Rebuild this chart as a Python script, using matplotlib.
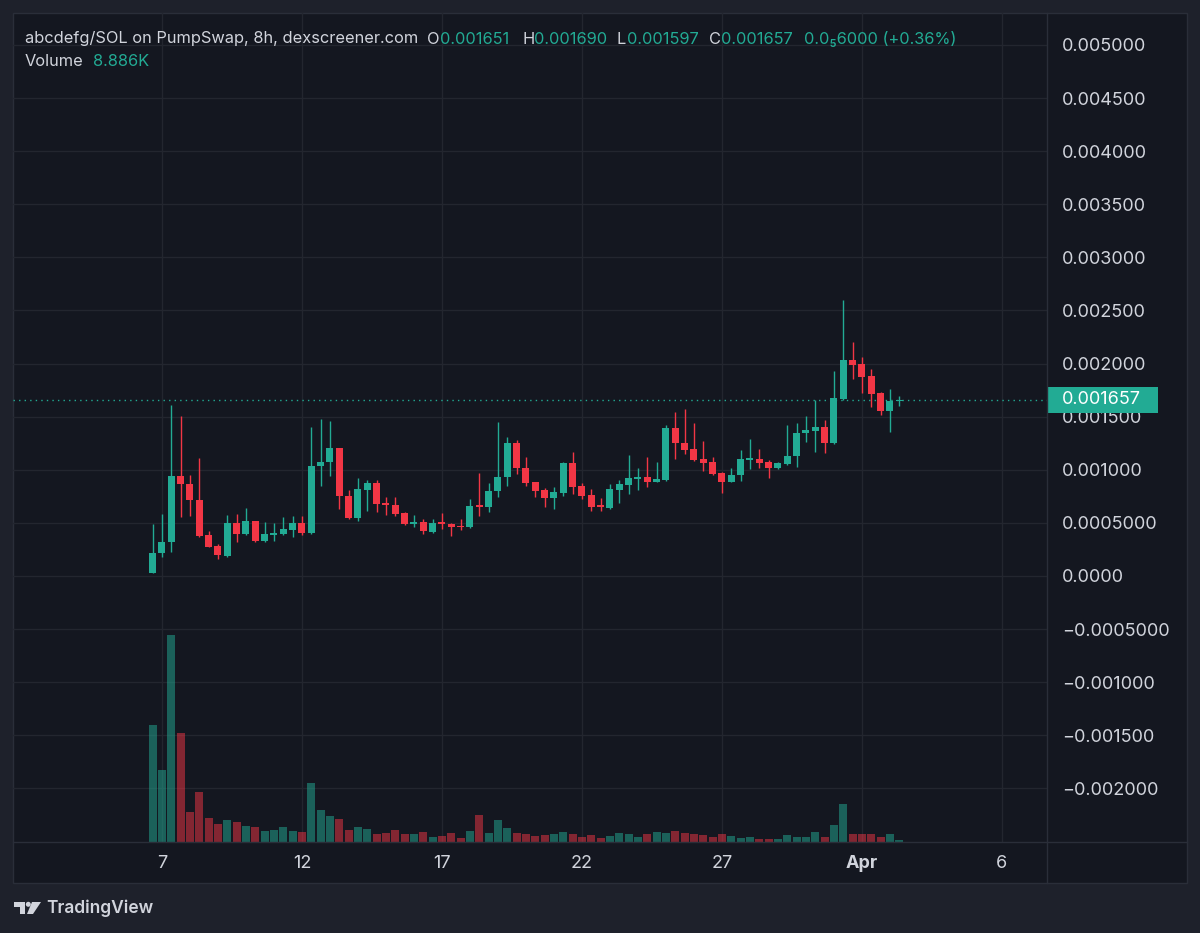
import numpy as np
import pandas as pd
import matplotlib
matplotlib.use("Agg")
import matplotlib.pyplot as plt
import matplotlib.dates as mdates
import matplotlib.patches as patches
import matplotlib.transforms as mtransforms

plt.rcParams['font.family'] = ['Inter', 'DejaVu Sans']

# --- data: 8h candles, prices in 1e-3 SOL, volume in thousands ---
open_m = [0.031, 0.214, 0.320, 0.944, 0.866, 0.716, 0.383, 0.282, 0.191, 0.502,
          0.393, 0.518, 0.330, 0.389, 0.393, 0.433, 0.496, 0.402, 1.036, 1.076,
          1.208, 0.753, 0.543, 0.810, 0.879, 0.690, 0.666, 0.593, 0.490, 0.508,
          0.417, 0.505, 0.490, 0.474, 0.459, 0.669, 0.647, 0.803, 0.929, 1.250,
          1.014, 0.882, 0.810, 0.737, 0.779, 1.061, 0.847, 0.763, 0.669, 0.637,
          0.810, 0.857, 0.916, 0.929, 0.888, 0.904, 1.396, 1.255, 1.196, 1.102,
          1.076, 0.967, 0.888, 0.951, 1.092, 1.102, 1.071, 1.014, 1.055, 1.133,
          1.344, 1.365, 1.406, 1.250, 1.664, 2.034, 1.996, 1.883, 1.720, 1.557,
          1.651]
high_m = [0.487, 0.581, 1.610, 1.507, 0.951, 1.108, 0.421, 0.301, 0.574, 0.584,
          0.643, 0.518, 0.511, 0.496, 0.558, 0.565, 0.568, 1.400, 1.476, 1.462,
          1.208, 0.810, 0.920, 0.904, 0.904, 0.741, 0.747, 0.605, 0.574, 0.537,
          0.533, 0.590, 0.502, 0.537, 0.725, 0.973, 0.873, 1.453, 1.312, 1.281,
          1.123, 0.882, 0.826, 0.835, 1.070, 1.165, 0.873, 0.816, 0.731, 0.863,
          0.904, 1.139, 1.014, 1.123, 1.076, 1.422, 1.547, 1.570, 1.443, 1.271,
          1.118, 0.976, 1.014, 1.186, 1.293, 1.193, 1.092, 1.071, 1.422, 1.443,
          1.507, 1.657, 1.469, 1.933, 2.599, 2.201, 2.059, 1.946, 1.730, 1.758,
          1.690]
low_m = [0.025, 0.182, 0.223, 0.558, 0.568, 0.364, 0.270, 0.157, 0.182, 0.323,
         0.386, 0.323, 0.320, 0.332, 0.386, 0.370, 0.386, 0.393, 0.850, 0.942,
         0.631, 0.537, 0.521, 0.612, 0.605, 0.574, 0.568, 0.480, 0.464, 0.395,
         0.402, 0.443, 0.377, 0.433, 0.455, 0.565, 0.605, 0.747, 0.847, 0.960,
         0.847, 0.747, 0.653, 0.628, 0.756, 0.769, 0.725, 0.615, 0.615, 0.628,
         0.690, 0.769, 0.810, 0.835, 0.882, 0.895, 1.099, 1.149, 1.083, 0.992,
         0.951, 0.779, 0.888, 0.897, 1.005, 1.014, 0.926, 1.005, 1.045, 1.024,
         1.265, 1.171, 1.161, 1.240, 1.657, 1.852, 1.726, 1.588, 1.516, 1.359,
         1.597]
close_m = [0.219, 0.323, 0.944, 0.863, 0.716, 0.379, 0.276, 0.198, 0.502, 0.395,
           0.518, 0.330, 0.395, 0.408, 0.440, 0.496, 0.402, 1.036, 1.076, 1.208,
           0.753, 0.549, 0.816, 0.879, 0.675, 0.671, 0.584, 0.487, 0.511, 0.424,
           0.496, 0.490, 0.459, 0.459, 0.659, 0.653, 0.803, 0.935, 1.250, 1.014,
           0.879, 0.803, 0.737, 0.788, 1.061, 0.841, 0.756, 0.653, 0.647, 0.816,
           0.863, 0.920, 0.935, 0.888, 0.913, 1.396, 1.250, 1.186, 1.092, 1.061,
           0.958, 0.888, 0.951, 1.099, 1.114, 1.061, 1.014, 1.061, 1.133, 1.344,
           1.375, 1.406, 1.250, 1.673, 2.034, 1.987, 1.871, 1.714, 1.554, 1.651,
           1.657]
volume_k = [607, 373, 1075, 567, 156, 260, 126, 95, 113, 104,
            83, 78, 56, 61, 80, 57, 50, 308, 165, 134,
            118, 64, 76, 68, 43, 47, 64, 40, 40, 54,
            26, 30, 47, 21, 57, 139, 47, 113, 73, 47,
            40, 33, 36, 40, 52, 43, 26, 36, 21, 30,
            47, 43, 26, 43, 50, 47, 57, 48, 40, 36,
            24, 40, 33, 21, 26, 17, 17, 14, 36, 26,
            26, 50, 26, 90, 199, 40, 40, 40, 26, 43,
            8.886]
last_price = 0.001657

y_ticks = [0.005, 0.0045, 0.004, 0.0035, 0.003, 0.0025, 0.002, 0.0015, 0.001,
           0.0005, 0.0, -0.0005, -0.001, -0.0015, -0.002]
y_tick_labels = ["0.005000", "0.004500", "0.004000", "0.003500", "0.003000",
                 "0.002500", "0.002000", "0.001500", "0.001000", "0.0005000",
                 "0.0000", "\u22120.0005000", "\u22120.001000", "\u22120.001500",
                 "\u22120.002000"]
x_tick_dates = ["2025-03-07", "2025-03-12", "2025-03-17", "2025-03-22",
                "2025-03-27", "2025-04-01", "2025-04-06"]
x_tick_labels = ["7", "12", "17", "22", "27", "Apr", "6"]

# --- colours ---
OUTER = "#1e212b"
PANEL = "#141720"
GRID = "#23262f"
SEP = "#2a2e39"
GREEN = "#22ab94"
RED = "#f23645"
TXT = "#d1d4dc"

W, H = 1200, 933
def fx(x):
    return x / W
def fy(y):
    return 1 - y / H

o = np.array(open_m) * 1e-3
h = np.array(high_m) * 1e-3
l = np.array(low_m) * 1e-3
c = np.array(close_m) * 1e-3
times = pd.date_range("2025-03-06 16:00", periods=len(o), freq="8h")
xs = mdates.date2num(times.to_pydatetime())
up = c >= o
cols = np.where(up, GREEN, RED)

fig = plt.figure(figsize=(12, 9.33), dpi=100, facecolor=OUTER)
fig.patches.append(patches.Rectangle((fx(13), fy(883)), fx(1187) - fx(13), fy(13) - fy(883),
                                     transform=fig.transFigure, facecolor=PANEL,
                                     edgecolor=SEP, lw=1, zorder=-10))

ax = fig.add_axes([fx(13), fy(842), fx(1047) - fx(13), fy(13) - fy(842)])
ax.set_zorder(1)
ax.patch.set_alpha(0)

# volume on its own hidden scale
axv = ax.twinx()
axv.bar(xs, volume_k, width=0.28, color=cols, alpha=0.5, linewidth=0)
axv.set_ylim(0, 4310)
axv.axis('off')

# candles
ax.vlines(xs, l, h, colors=cols, lw=1, zorder=3)
body_bottom = np.minimum(o, c)
body_h = np.maximum(np.abs(c - o), 0.00001)
ax.bar(xs, body_h, bottom=body_bottom, width=0.25, color=cols, linewidth=0, zorder=4)

ax.axhline(last_price, color=GREEN, lw=1, ls=(0, (1, 3)), zorder=2)

x0 = mdates.date2num(pd.Timestamp("2025-03-07").to_pydatetime())
ax.set_xlim(x0 - 5.32, x0 + 31.61)
ax.set_ylim(-0.002505, 0.005301)

ax.set_yticks(y_ticks)
ax.set_yticklabels(y_tick_labels)
ax.yaxis.tick_right()
ax.set_xticks(mdates.date2num([pd.Timestamp(d).to_pydatetime() for d in x_tick_dates]))
ax.set_xticklabels(x_tick_labels)
ax.get_xticklabels()[5].set_fontweight('bold')
ax.tick_params(axis='y', length=0, pad=11, labelsize=13, labelcolor=TXT)
ax.tick_params(axis='x', length=0, pad=9, labelsize=13, labelcolor=TXT)
ax.grid(True, color=GRID, lw=1)
ax.set_axisbelow(True)
for s in ax.spines.values():
    s.set_visible(False)

# price tag
trans = mtransforms.blended_transform_factory(ax.transAxes, ax.transData)
ax.add_patch(patches.Rectangle((1.0, last_price - 0.000127), (1158 - 1047) / 1034, 0.000254,
                               transform=trans, facecolor=GREEN, edgecolor='none',
                               clip_on=False, zorder=9))
ax.text((1062 - 13) / 1034, last_price, "0.001657", transform=trans, ha='left', va='center',
        color='white', fontsize=13, zorder=10, clip_on=False)

# panel separators
fig.add_artist(plt.Line2D([fx(1047), fx(1047)], [fy(13), fy(883)], color=SEP, lw=1))
fig.add_artist(plt.Line2D([fx(13), fx(1187)], [fy(842), fy(842)], color=SEP, lw=1))

# legend header
hdr = [
    (25, "abcdefg/SOL on PumpSwap, 8h, dexscreener.com", TXT),
    (427, "O", TXT), (440, "0.001651", GREEN),
    (522, "H", TXT), (534, "0.001690", GREEN),
    (617, "L", TXT), (627, "0.001597", GREEN),
    (709, "C", TXT), (721, "0.001657", GREEN),
    (804, "0.0\u20856000 (+0.36%)", GREEN),
]
for x, s, col in hdr:
    fig.text(fx(x), fy(39), s, color=col, fontsize=11.8, ha='left', va='center')
fig.text(fx(25), fy(62), "Volume", color=TXT, fontsize=11.8, ha='left', va='center')
fig.text(fx(93), fy(62), "8.886K", color=GREEN, fontsize=11.8, ha='left', va='center')

# TradingView logo
logo = [
    patches.Polygon([(fx(14), fy(902)), (fx(25), fy(902)), (fx(25), fy(914)),
                     (fx(20), fy(914)), (fx(20), fy(906.5)), (fx(14), fy(906.5))], closed=True),
    patches.Ellipse((fx(28.3), fy(904.3)), 5 / W, 5 / H),
    patches.Polygon([(fx(32), fy(902)), (fx(41), fy(902)), (fx(33), fy(914)),
                     (fx(27), fy(914))], closed=True),
]
for p in logo:
    p.set_transform(fig.transFigure)
    p.set_facecolor(TXT)
    p.set_edgecolor('none')
    fig.patches.append(p)
fig.text(fx(46), fy(908), "TradingView", color=TXT, fontsize=12.5, fontweight='semibold',
         ha='left', va='center')

fig.savefig("out.png", dpi=100, facecolor=OUTER)
